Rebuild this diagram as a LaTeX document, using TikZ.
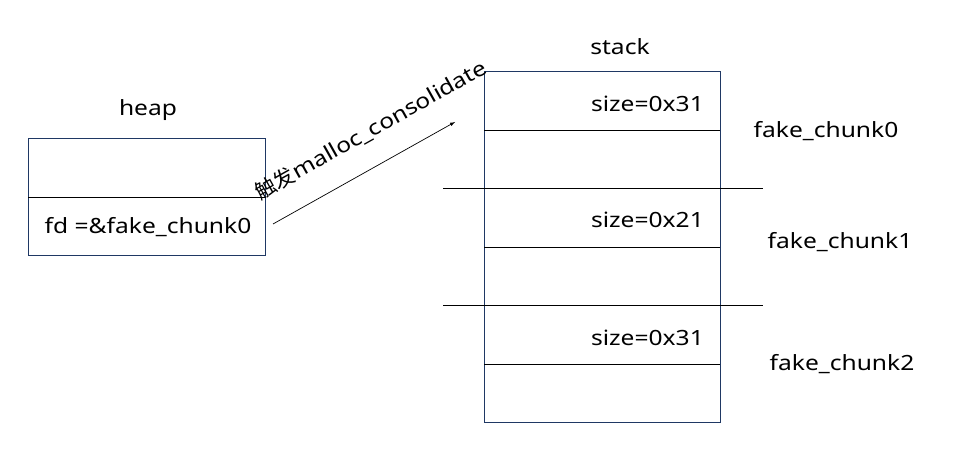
\documentclass[tikz,border=0pt]{standalone}
\usepackage{fontspec}
\setmainfont[FakeStretch=1.17]{Noto Sans}
\newfontfamily\cjk{Noto Sans CJK SC}
\definecolor{boxblue}{HTML}{1F3864}
\begin{document}
\begin{tikzpicture}[x=1pt,y=-1pt,
  lbl/.style={font=\fontsize{21}{24}\selectfont, inner sep=0pt},
  frame/.style={draw=boxblue, line width=0.8pt},
  divl/.style={draw=black, line width=0.8pt}]
\useasboundingbox (0,0) rectangle (955,454);
% heap
\node[lbl] (heaplbl) at (148,110) {heap};
\node[frame, minimum width=237pt, minimum height=117pt, inner sep=0pt] (heap) at (146.5,196.5) {};
\coordinate (hdl) at (28,197);
\coordinate (hdr) at (265,197);
\draw[divl] (hdl) -- (hdr);
\node[lbl] (fd) at (148,227) {fd =\&fake\_chunk0};
% stack
\node[lbl] (stacklbl) at (620,47) {stack};
\node[frame, minimum width=236pt, minimum height=351pt, inner sep=0pt] (stack) at (602,246.5) {};
\coordinate (d1l) at (484,130); \coordinate (d1r) at (720,130);
\coordinate (d2l) at (443,188); \coordinate (d2r) at (763,188);
\coordinate (d3l) at (484,247); \coordinate (d3r) at (720,247);
\coordinate (d4l) at (443,305); \coordinate (d4r) at (763,305);
\coordinate (d5l) at (484,364); \coordinate (d5r) at (720,364);
\draw[divl] (d1l) -- (d1r);
\draw[divl] (d2l) -- (d2r);
\draw[divl] (d3l) -- (d3r);
\draw[divl] (d4l) -- (d4r);
\draw[divl] (d5l) -- (d5r);
\node[lbl, anchor=east] (s0) at (704,104) {size=0x31};
\node[lbl, anchor=east] (s1) at (704,220) {size=0x21};
\node[lbl, anchor=east] (s2) at (704,338) {size=0x31};
\node[lbl] (fc0) at (826,131) {fake\_chunk0};
\node[lbl] (fc1) at (840,242) {fake\_chunk1};
\node[lbl] (fc2) at (842,364) {fake\_chunk2};
% arrow
\coordinate (as) at (273,224);
\coordinate (ae) at (455,122);
\draw[-latex, line width=0.7pt] (as) -- (ae);
\node[lbl, rotate=29.3] (trig) at (371,130) {{\cjk 触发}malloc\_consolidate};
\end{tikzpicture}
\end{document}
